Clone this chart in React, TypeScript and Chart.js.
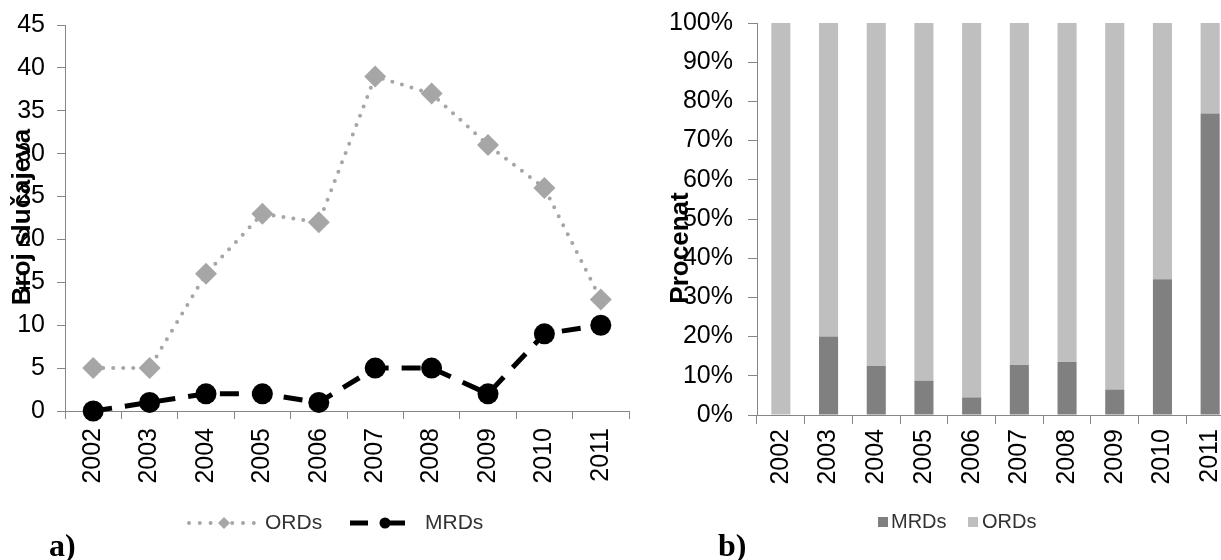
import React, { useEffect, useRef } from 'react';
import { Chart, registerables } from 'chart.js';

Chart.register(...registerables);

// ---- data ----
const years = ['2002', '2003', '2004', '2005', '2006', '2007', '2008', '2009', '2010', '2011'];
const ordsCases = [5, 5, 16, 23, 22, 39, 37, 31, 26, 13];
const mrdsCases = [0, 1, 2, 2, 1, 5, 5, 2, 9, 10];
const mrdsPercent = [0, 20, 12.5, 8.7, 4.5, 12.8, 13.5, 6.5, 34.6, 76.9];
const ordsPercent = [100, 80, 87.5, 91.3, 95.5, 87.2, 86.5, 93.5, 65.4, 23.1];
const casesTicks = { min: 0, max: 45, step: 5 };
const percentTicks = { min: 0, max: 100, step: 10 };
const leftTitle = 'Broj slučajeva';
const rightTitle = 'Procenat';
const seriesNames = { ords: 'ORDs', mrds: 'MRDs' };

// ---- styles ----
const FONT = '"Liberation Sans", Arial, Helvetica, sans-serif';
const AXIS = '#868686';
const ORD_GRAY = '#A6A6A6';
const BAR_DARK = '#808080';
const BAR_LIGHT = '#BFBFBF';
const TICK_FONT = { family: FONT, size: 25 };

function drawVerticalTitle(ctx: CanvasRenderingContext2D, text: string, x: number, y: number) {
  ctx.save();
  ctx.translate(x, y);
  ctx.rotate(-Math.PI / 2);
  ctx.font = `bold 26px ${FONT}`;
  ctx.fillStyle = '#000';
  ctx.textAlign = 'center';
  ctx.textBaseline = 'alphabetic';
  ctx.fillText(text, 0, 0);
  ctx.restore();
}

function LineChart() {
  const ref = useRef<HTMLCanvasElement>(null);
  useEffect(() => {
    const overlay = {
      id: 'leftOverlay',
      afterDraw(chart: any) {
        const ctx: CanvasRenderingContext2D = chart.ctx;
        drawVerticalTitle(ctx, leftTitle, 30, 217);
        const ds = chart.data.datasets;
        const ly = 523;
        ctx.save();
        // ORDs sample
        ctx.strokeStyle = ORD_GRAY;
        ctx.lineWidth = 4;
        ctx.lineCap = 'round';
        ctx.setLineDash([0, 10.8]);
        ctx.beginPath();
        ctx.moveTo(189, ly);
        ctx.lineTo(254, ly);
        ctx.stroke();
        ctx.setLineDash([]);
        ctx.fillStyle = ORD_GRAY;
        ctx.beginPath();
        ctx.moveTo(218, ly);
        ctx.lineTo(224, ly - 6);
        ctx.lineTo(230, ly);
        ctx.lineTo(224, ly + 6);
        ctx.closePath();
        ctx.fill();
        ctx.font = `21px ${FONT}`;
        ctx.fillStyle = '#333';
        ctx.textAlign = 'left';
        ctx.textBaseline = 'middle';
        ctx.fillText(ds[0].label, 265, ly);
        // MRDs sample
        ctx.strokeStyle = '#000';
        ctx.lineWidth = 5;
        ctx.lineCap = 'butt';
        ctx.beginPath();
        ctx.moveTo(350, ly);
        ctx.lineTo(368, ly);
        ctx.moveTo(386, ly);
        ctx.lineTo(405, ly);
        ctx.stroke();
        ctx.fillStyle = '#000';
        ctx.beginPath();
        ctx.arc(385, ly, 5.5, 0, Math.PI * 2);
        ctx.fill();
        ctx.fillStyle = '#333';
        ctx.fillText(ds[1].label, 425, ly);
        ctx.restore();
      },
    };
    const chart = new Chart(ref.current as HTMLCanvasElement, {
      type: 'line',
      data: {
        labels: years,
        datasets: [
          {
            label: seriesNames.ords,
            data: ordsCases,
            borderColor: ORD_GRAY,
            backgroundColor: ORD_GRAY,
            borderWidth: 4,
            borderDash: [0, 10],
            borderCapStyle: 'round',
            pointStyle: 'rectRot',
            pointRadius: 11,
            pointBackgroundColor: ORD_GRAY,
            pointBorderWidth: 0,
            tension: 0,
            fill: false,
            clip: false,
            order: 2,
          },
          {
            label: seriesNames.mrds,
            data: mrdsCases,
            borderColor: '#000',
            backgroundColor: '#000',
            borderWidth: 5,
            borderDash: [19, 13],
            pointStyle: 'circle',
            pointRadius: 10.5,
            pointBackgroundColor: '#000',
            pointBorderWidth: 0,
            tension: 0,
            fill: false,
            clip: false,
            order: 1,
          },
        ],
      },
      options: {
        responsive: false,
        animation: false,
        layout: { padding: { top: 25, right: 10, left: 0, bottom: 0 } },
        plugins: { legend: { display: false }, tooltip: { enabled: false } },
        scales: {
          x: {
            type: 'category',
            offset: true,
            grid: { offset: true, drawOnChartArea: false, drawTicks: true, tickLength: 8, color: AXIS, lineWidth: 1 },
            border: { display: true, color: AXIS, width: 1 },
            ticks: { autoSkip: false, minRotation: 90, maxRotation: 90, padding: 9, color: '#000', font: TICK_FONT },
            afterFit(s: any) {
              s.height = 149;
              s.paddingLeft = 0;
              s.paddingRight = 0;
            },
          },
          y: {
            min: casesTicks.min,
            max: casesTicks.max,
            ticks: { stepSize: casesTicks.step, padding: 12, color: '#000', font: TICK_FONT },
            grid: { drawOnChartArea: false, drawTicks: true, tickLength: 8, color: AXIS, lineWidth: 1 },
            border: { display: true, color: AXIS, width: 1 },
            afterFit(s: any) {
              s.width = 65;
              s.paddingTop = 0;
              s.paddingBottom = 0;
            },
          },
        },
      } as any,
      plugins: [overlay],
    } as any);
    return () => chart.destroy();
  }, []);
  return (
    <canvas
      ref={ref}
      width={640}
      height={560}
      style={{ position: 'absolute', left: 0, top: 0, width: 640, height: 560 }}
    />
  );
}

function BarChart() {
  const ref = useRef<HTMLCanvasElement>(null);
  useEffect(() => {
    const overlay = {
      id: 'rightOverlay',
      afterDraw(chart: any) {
        const ctx: CanvasRenderingContext2D = chart.ctx;
        drawVerticalTitle(ctx, rightTitle, 48, 248);
        const ds = chart.data.datasets;
        const ly = 522;
        ctx.save();
        ctx.font = `20px ${FONT}`;
        ctx.textAlign = 'left';
        ctx.textBaseline = 'middle';
        ctx.fillStyle = ds[0].backgroundColor;
        ctx.fillRect(238, ly - 5, 10, 10);
        ctx.fillStyle = '#333';
        ctx.fillText(ds[0].label, 251, ly);
        ctx.fillStyle = ds[1].backgroundColor;
        ctx.fillRect(328, ly - 5, 10, 10);
        ctx.fillStyle = '#333';
        ctx.fillText(ds[1].label, 342, ly);
        ctx.restore();
      },
    };
    const chart = new Chart(ref.current as HTMLCanvasElement, {
      type: 'bar',
      data: {
        labels: years,
        datasets: [
          {
            label: seriesNames.mrds,
            data: mrdsPercent,
            backgroundColor: BAR_DARK,
            borderWidth: 0,
            barPercentage: 0.4,
            categoryPercentage: 1,
          },
          {
            label: seriesNames.ords,
            data: ordsPercent,
            backgroundColor: BAR_LIGHT,
            borderWidth: 0,
            barPercentage: 0.4,
            categoryPercentage: 1,
          },
        ],
      },
      options: {
        responsive: false,
        animation: false,
        layout: { padding: { top: 23, right: 6, left: 0, bottom: 0 } },
        plugins: { legend: { display: false }, tooltip: { enabled: false } },
        scales: {
          x: {
            stacked: true,
            grid: { offset: true, drawOnChartArea: false, drawTicks: true, tickLength: 9, color: AXIS, lineWidth: 1 },
            border: { display: true, color: AXIS, width: 1 },
            ticks: { autoSkip: false, minRotation: 90, maxRotation: 90, padding: 5, color: '#000', font: TICK_FONT },
            afterFit(s: any) {
              s.height = 145;
              s.paddingLeft = 0;
              s.paddingRight = 0;
            },
          },
          y: {
            stacked: true,
            min: percentTicks.min,
            max: percentTicks.max,
            ticks: {
              stepSize: percentTicks.step,
              padding: 15,
              color: '#000',
              font: TICK_FONT,
              callback: (v: any) => `${v}%`,
            },
            grid: { drawOnChartArea: false, drawTicks: true, tickLength: 9, color: AXIS, lineWidth: 1 },
            border: { display: true, color: AXIS, width: 1 },
            afterFit(s: any) {
              s.width = 117;
              s.paddingTop = 0;
              s.paddingBottom = 0;
            },
          },
        },
      } as any,
      plugins: [overlay],
    } as any);
    return () => chart.destroy();
  }, []);
  return (
    <canvas
      ref={ref}
      width={600}
      height={560}
      style={{ position: 'absolute', left: 640, top: 0, width: 600, height: 560 }}
    />
  );
}

const panelLabel: React.CSSProperties = {
  position: 'absolute',
  top: 529,
  font: 'bold 32px "Liberation Serif", "Times New Roman", serif',
  lineHeight: '32px',
  color: '#000',
  margin: 0,
};

export default function App() {
  return (
    <div
      style={{
        position: 'absolute',
        left: 0,
        top: 0,
        width: 1221,
        height: 560,
        overflow: 'hidden',
        background: '#fff',
      }}
    >
      <LineChart />
      <BarChart />
      <div style={{ ...panelLabel, left: 49 }}>a)</div>
      <div style={{ ...panelLabel, left: 718 }}>b)</div>
    </div>
  );
}
